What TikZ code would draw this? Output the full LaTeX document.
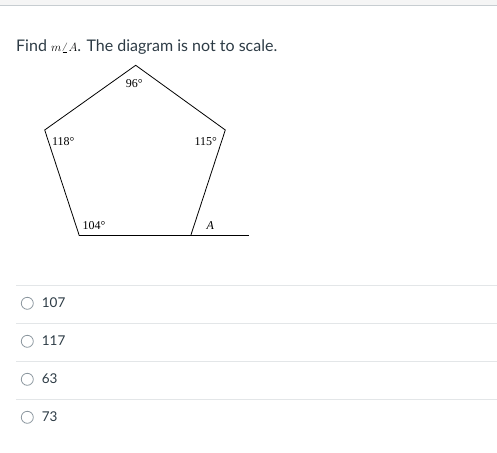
\documentclass[tikz,border=0pt]{standalone}
\usepackage{fontspec}
\setmainfont{Lato}
\newfontfamily\figfont{Liberation Serif}
\usetikzlibrary{calc}
\definecolor{inktext}{HTML}{2D3B45}
\definecolor{rulegrey}{HTML}{C7CDD1}
\definecolor{sepgrey}{HTML}{E3E6E8}
\definecolor{radiogrey}{HTML}{8B969E}
\tikzset{
  figlabel/.style={font=\figfont\fontsize{12}{14}\selectfont, inner sep=0pt},
  choicetext/.style={anchor=base west, inner sep=0pt, text=inktext, font=\fontsize{13.5}{16}\selectfont},
  radio/.style={draw=radiogrey, line width=0.8pt},
  sepline/.style={draw=sepgrey, line width=1pt}
}
\begin{document}
\begin{tikzpicture}[x=1pt,y=-1pt]
    \useasboundingbox (0,0) rectangle (497,452);
    % page header strip
    \fill [black!4] (0,0) rectangle (497,5);
    \draw [rulegrey, line width=1.5pt] (0,5.5) -- (497,5.5);
    \node [anchor=base west, inner sep=0pt, text=inktext, font=\fontsize{16}{19}\selectfont] (title) at (16,52)
      {Find {\color{black}\fontsize{12.5}{14}\selectfont$m\angle A$}. The diagram is not to scale.};
    % the pentagon
    \coordinate (top) at (135.7,65.3);
    \coordinate (left) at (44.7,130);
    \coordinate (right) at (225.3,130);
    \coordinate (botleft) at (79.3,235.7);
    \coordinate (botright) at (190.7,235.7);
    \coordinate (ext) at (249,235.7);
    \draw [line width=0.8pt] (botleft) -- (left) -- (top) -- (right) -- (botright);
    \draw [line width=0.8pt] (botleft) -- (ext);
    \node [figlabel] (a96) at (134.3,84) {96°};
    \node [figlabel] (a118) at (63.3,141.3) {118°};
    \node [figlabel] (a115) at (205.7,141.3) {115°};
    \node [figlabel] (a104) at (94,225.7) {104°};
    \node [figlabel] (aA) at (210.3,225.7) {\itshape A};
    % answer choices
    \draw [sepline] (16,285.3) -- (497,285.3);
    \draw [sepline] (16,323.3) -- (497,323.3);
    \draw [sepline] (16,361.3) -- (497,361.3);
    \draw [sepline] (16,399.3) -- (497,399.3);
    \draw [radio] (27.3,303.3) circle (6);
    \draw [radio] (27.3,341.3) circle (6);
    \draw [radio] (27.3,379.3) circle (6);
    \draw [radio] (27.3,417.3) circle (6);
    \node [choicetext] (c1) at (41.7,307) {107};
    \node [choicetext] (c2) at (41.7,345) {117};
    \node [choicetext] (c3) at (41.7,383) {63};
    \node [choicetext] (c4) at (41.7,421) {73};
\end{tikzpicture}
\end{document}
